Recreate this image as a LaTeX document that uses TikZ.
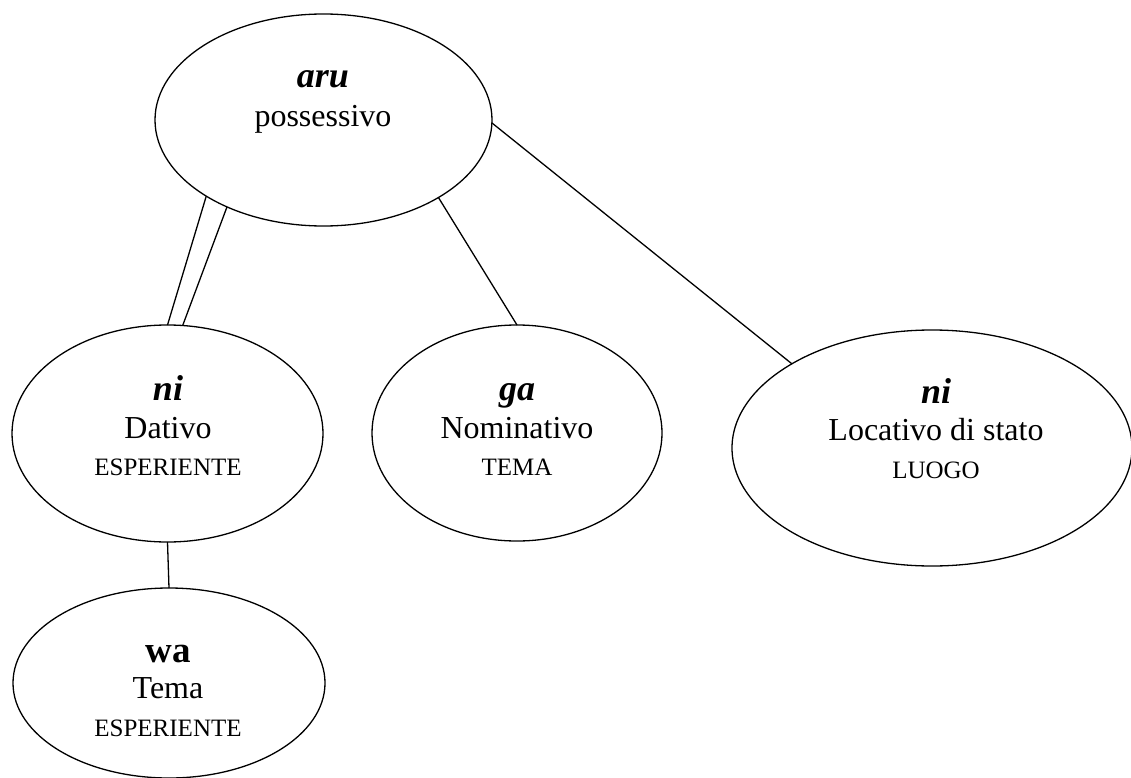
\documentclass[tikz,border=0pt]{standalone}
\usepackage{fontspec}
\setmainfont{Liberation Serif}
\usetikzlibrary{shapes.geometric}
\begin{document}
\begin{tikzpicture}[x=1pt,y=-1pt,
  oval/.style={draw,ellipse,line width=1.3pt,inner sep=0pt,outer sep=0pt},
  conn/.style={line width=1.3pt},
  head/.style={anchor=base,inner sep=0pt,font=\fontsize{36}{40}\selectfont\bfseries\itshape},
  headup/.style={anchor=base,inner sep=0pt,font=\fontsize{37}{40}\selectfont\bfseries},
  mid/.style={anchor=base,inner sep=0pt,font=\fontsize{32}{36}\selectfont},
  small/.style={anchor=base,inner sep=0pt,font=\fontsize{25}{28}\selectfont}]
\useasboundingbox (0,0) rectangle (1131,778);
% ellipses
\node[oval,minimum width=337pt,minimum height=212pt] (aru) at (323.5,120) {};
\node[oval,minimum width=311pt,minimum height=217pt] (nid) at (167.5,433.5) {};
\node[oval,minimum width=290pt,minimum height=216pt] (ga) at (517,433) {};
\node[oval,minimum width=400pt,minimum height=236pt] (loc) at (932,448) {};
\node[oval,minimum width=312pt,minimum height=190pt] (wa) at (169,683) {};
% texts
\node[head] (aruA) at (323,88) {aru};
\node[mid] (aruB) at (323,127) {possessivo};
\node[head] (nidA) at (168,400) {ni};
\node[mid] (nidB) at (168,438) {Dativo};
\node[small] (nidC) at (168,475) {ESPERIENTE};
\node[head] (gaA) at (517,400) {ga};
\node[mid] (gaB) at (517,438) {Nominativo};
\node[small] (gaC) at (517,475) {TEMA};
\node[head] (locA) at (936,403) {ni};
\node[mid] (locB) at (936,440) {Locativo di stato};
\node[small] (locC) at (936,478) {LUOGO};
\node[headup] (waA) at (168,662) {wa};
\node[mid] (waB) at (168,698) {Tema};
\node[small] (waC) at (168,736) {ESPERIENTE};
% connectors
\draw[conn] (aru.213.8) -- (nid.90);
\draw[conn] (aru.222) -- (nid.82.8);
\draw[conn] (aru.326.9) -- (ga.90.5);
\draw[conn] (aru.359) -- (loc.149);
\draw[conn] (nid.south) -- (wa.north);
\end{tikzpicture}
\end{document}
